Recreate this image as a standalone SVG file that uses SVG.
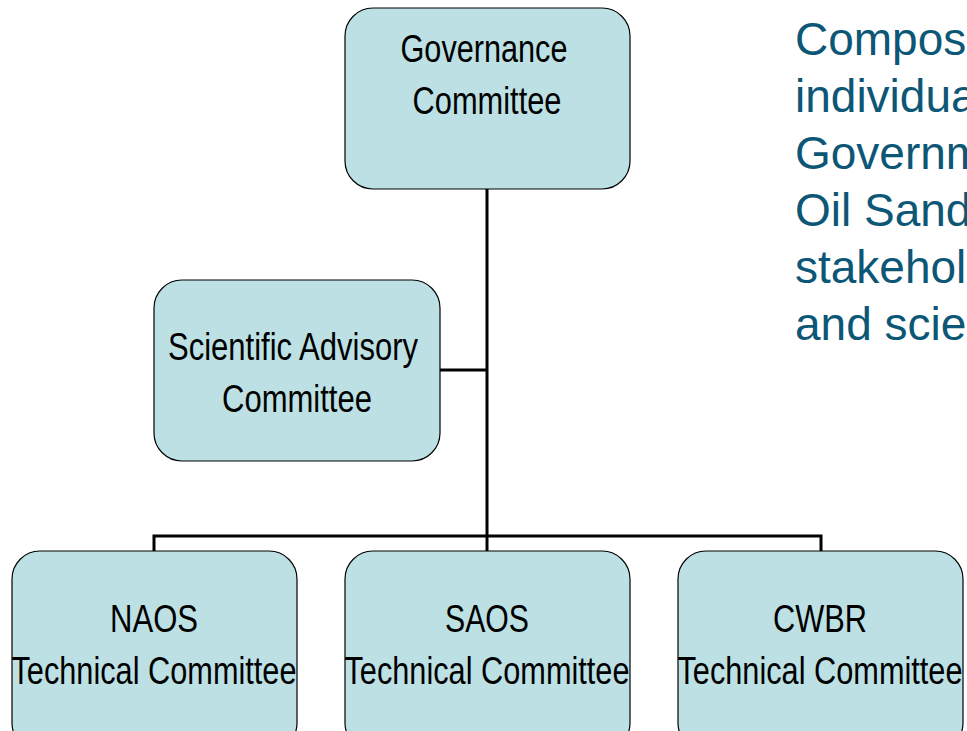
<svg xmlns="http://www.w3.org/2000/svg" width="967" height="731" viewBox="0 0 967 731">
<style>
.box{fill:#bce0e3;stroke:#000;stroke-width:1.2}
.lbl{font-family:"Liberation Sans",Arial,sans-serif;font-size:38px;fill:#000;text-anchor:middle}
.side{font-family:"Liberation Sans",Arial,sans-serif;font-size:46px;fill:#0c5676}
.conn{fill:none;stroke:#000;stroke-width:3}
</style>
<rect width="967" height="731" fill="#fff"/>
<g id="connectors">
<path class="conn" d="M487 189 V536"/>
<path class="conn" d="M440 370 H487"/>
<path class="conn" d="M154 551 V536 H821 V551"/>
<path class="conn" d="M487 536 V551"/>
</g>
<g id="governance">
<rect class="box" x="345" y="8" width="285" height="181" rx="28"/>
<text class="lbl" x="484" y="62" textLength="167" lengthAdjust="spacingAndGlyphs">Governance</text>
<text class="lbl" x="487" y="114" textLength="149" lengthAdjust="spacingAndGlyphs">Committee</text>
</g>
<g id="scientific">
<rect class="box" x="154" y="280" width="286" height="181" rx="28"/>
<text class="lbl" x="293" y="360" textLength="250" lengthAdjust="spacingAndGlyphs">Scientific Advisory</text>
<text class="lbl" x="297" y="412" textLength="150" lengthAdjust="spacingAndGlyphs">Committee</text>
</g>
<g id="naos">
<rect class="box" x="12" y="551" width="285" height="200" rx="28"/>
<text class="lbl" x="154" y="632" textLength="88" lengthAdjust="spacingAndGlyphs">NAOS</text>
<text class="lbl" x="154" y="684" textLength="285" lengthAdjust="spacingAndGlyphs">Technical Committee</text>
</g>
<g id="saos">
<rect class="box" x="345" y="551" width="285" height="200" rx="28"/>
<text class="lbl" x="487" y="632" textLength="84" lengthAdjust="spacingAndGlyphs">SAOS</text>
<text class="lbl" x="487" y="684" textLength="285" lengthAdjust="spacingAndGlyphs">Technical Committee</text>
</g>
<g id="cwbr">
<rect class="box" x="678" y="551" width="285" height="200" rx="28"/>
<text class="lbl" x="820" y="632" textLength="94" lengthAdjust="spacingAndGlyphs">CWBR</text>
<text class="lbl" x="820" y="684" textLength="285" lengthAdjust="spacingAndGlyphs">Technical Committee</text>
</g>
<g id="note">
<text class="side" x="795" y="55">Compos</text>
<text class="side" x="795" y="112">individua</text>
<text class="side" x="795" y="169">Governm</text>
<text class="side" x="795" y="226">Oil Sand</text>
<text class="side" x="795" y="283">stakehol</text>
<text class="side" x="795" y="340">and scie</text>
</g>
</svg>
